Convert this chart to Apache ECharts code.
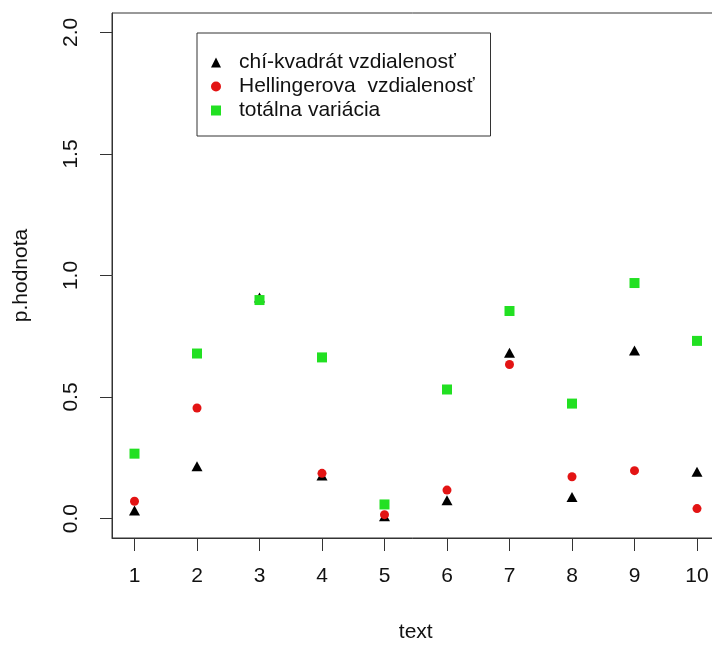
<!DOCTYPE html>
<html><head><meta charset="utf-8">
<script src="https://cdn.jsdelivr.net/npm/echarts@6/dist/echarts.min.js"></script>
<style>html,body{margin:0;padding:0;background:#fff}#c{width:712px;height:645px}</style>
</head><body><div id="c"></div>
<script>
const categories = [1, 2, 3, 4, 5, 6, 7, 8, 9, 10];
const chiKvadrat = [0.033, 0.215, 0.91, 0.177, 0.01, 0.075, 0.682, 0.089, 0.691, 0.193];
const hellinger  = [0.071, 0.455, 0.90, 0.186, 0.016, 0.117, 0.634, 0.172, 0.197, 0.041];
const totalna    = [0.267, 0.679, 0.899, 0.663, 0.058, 0.531, 0.854, 0.473, 0.969, 0.731];
const yTicks = [0, 0.5, 1, 1.5, 2];
const xTicks = categories;
const seriesNames = ['chí-kvadrát vzdialenosť', 'Hellingerova  vzdialenosť', 'totálna variácia'];

const FONT = "'Liberation Sans', Arial, sans-serif";
const TXT = '#111';
const AX = '#333';
const pairs = arr => categories.map((c, i) => [c, arr[i]]);

const chart = echarts.init(document.getElementById('c'), null, {renderer: 'canvas'});
chart.setOption({
  animation: false,
  backgroundColor: '#fff',
  grid: {
    left: 112, top: 13, right: -7.5, bottom: 107,
    show: true, borderColor: AX, borderWidth: 1,
    containLabel: false, outerBoundsMode: 'none'
  },
  xAxis: {
    type: 'value', min: 0.64, max: 10.36,
    name: 'text', nameLocation: 'middle', nameGap: 84,
    nameTextStyle: {fontSize: 21, fontFamily: FONT, color: TXT},
    axisLine: {show: true, onZero: false, lineStyle: {color: AX, width: 1}},
    axisTick: {show: true, length: 13, lineStyle: {color: AX}, customValues: xTicks},
    axisLabel: {fontSize: 21, fontFamily: FONT, color: TXT, margin: 28, customValues: xTicks},
    splitLine: {show: false}
  },
  yAxis: {
    type: 'value', min: -0.08, max: 2.08,
    name: 'p.hodnota', nameLocation: 'middle', nameGap: 80, nameRotate: 90,
    nameTextStyle: {fontSize: 21, fontFamily: FONT, color: TXT},
    axisLine: {show: true, onZero: false, lineStyle: {color: AX, width: 1}},
    axisTick: {show: true, length: 12, lineStyle: {color: AX}, customValues: yTicks},
    axisLabel: {fontSize: 21, fontFamily: FONT, color: TXT, margin: 30, rotate: 90,
      customValues: yTicks, formatter: v => Number(v).toFixed(1)},
    splitLine: {show: false}
  },
  legend: {
    orient: 'vertical', left: 197, top: 33,
    itemWidth: 10, itemHeight: 10, itemGap: 3,
    padding: [19, 16, 15, 14],
    borderColor: AX, borderWidth: 1, borderRadius: 0,
    backgroundColor: '#fff',
    selectedMode: false,
    textStyle: {fontSize: 21, fontFamily: FONT, color: TXT, padding: [0, 0, 0, 13]},
    data: [
      {name: seriesNames[0], icon: 'triangle'},
      {name: seriesNames[1], icon: 'circle'},
      {name: seriesNames[2], icon: 'rect'}
    ]
  },
  series: [
    {name: seriesNames[0], type: 'scatter', data: pairs(chiKvadrat),
     symbol: 'triangle', symbolSize: [11, 10], itemStyle: {color: '#000', opacity: 1}},
    {name: seriesNames[1], type: 'scatter', data: pairs(hellinger),
     symbol: 'circle', symbolSize: 9, itemStyle: {color: '#e31414', opacity: 1}},
    {name: seriesNames[2], type: 'scatter', data: pairs(totalna),
     symbol: 'rect', symbolSize: 10, itemStyle: {color: '#22e022', opacity: 1}}
  ]
});
</script></body></html>
